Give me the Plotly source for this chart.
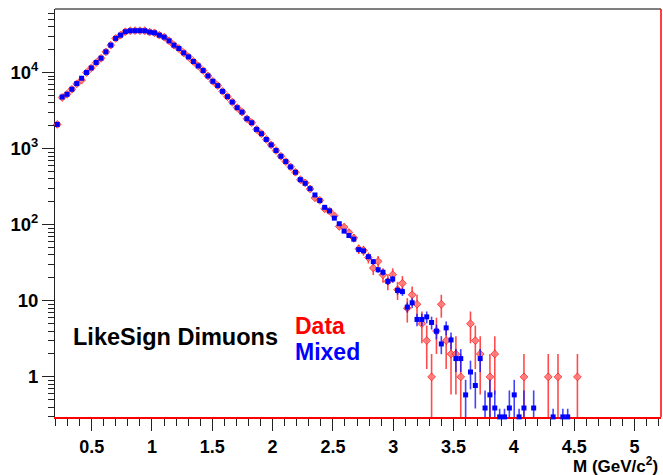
import math
import plotly.graph_objects as go

# ---------------- data ----------------
# histogram bins (bin index -> mass centre)
bin_first_centre = 0.215
bin_width = 0.0403
n_bins = 108

# Mixed (normalised) spectrum, one value per bin (None = empty)
mixed = [2080, 4770, 5180, 6030, 7160, 8410, 10000, 11500, 13550, 15450,
         18700, 22900, 28100, 31000, 34400, 35400, 35500, 35500, 35400, 34000,
         33300, 31000, 29200, 26100, 22900, 20700, 18150, 16070, 13960, 12220,
         10620, 9020, 7670, 6730, 5660, 4820, 4090, 3450, 3020, 2470,
         2190, 1790, 1570, 1320, 1120, 944, 794, 676, 575, 489,
         391, 350, 298, 246, 208, 169, 152, 122, 103, 82.4,
         72.1, 64.6, 47.1, 45.3, 38.0, 32.7, 25.6, 23.7, 18.0, 19.3,
         13.7, 13.2, 8.26, 9.42, 5.69, 5.69, 6.15, 5.19, 3.98, 2.71,
         4.41, 3.06, 1.74, 1.74, 0.58, 1.16, 0.77, 1.74, 0.39, 0.58,
         0.39, 0.19, 0.19, 0.39, 0.58, 0.19, 0.39, None, 0.39, None,
         None, None, 0.19, None, 0.19, 0.19, None, None]

# Data (raw counts), one value per bin (None = empty)
data = [2080, 4700, 5180, 6030, 7100, 7950, 10000, 11500, 13500, 15400,
        18700, 22900, 28100, 31000, 34400, 35400, 35500, 35500, 35400, 34000,
        33300, 31000, 29200, 26100, 22900, 20700, 18150, 16070, 13960, 12220,
        10620, 9020, 7670, 6730, 5660, 4820, 4090, 3450, 3020, 2470,
        2190, 1790, 1570, 1320, 1120, 944, 794, 676, 575, 489,
        391, 355, 295, 226, 209, 162, 151, 131, 95, 93,
        79, 67, 48, 46, 37, 27, 33, 22, 18, 22,
        14, 17, 8, 12, 9, 5, 3, 1, 4, 9,
        3, 2, 2, 1, None, 5, 3, 2, None, 1,
        2, None, None, None, None, None, 1, None, None, None,
        None, 1, None, 1, None, None, None, 1]

mixed_weight = 0.193   # weight per mixed-event entry

x_tick_vals = [0.5, 1, 1.5, 2, 2.5, 3, 3.5, 4, 4.5, 5]
x_tick_text = ["0.5", "1", "1.5", "2", "2.5", "3", "3.5", "4", "4.5", "5"]
y_tick_vals = [1, 10, 100, 1000, 10000]
y_tick_text = ["1", "10", "10<sup>2</sup>", "10<sup>3</sup>", "10<sup>4</sup>"]

# ---------------- axes ----------------
X_RANGE = [0.196, 5.22]
Y_MIN, Y_MAX = 0.297, 68400.0

centres = [round(bin_first_centre + bin_width * i, 4) for i in range(n_bins)]


def prepare(values, err_fn):
    xs, ys, up, dn = [], [], [], []
    for xc, v in zip(centres, values):
        if v is None:
            continue
        e = err_fn(v)
        yd = max(v, Y_MIN * 1.003)
        xs.append(xc)
        ys.append(yd)
        up.append(max(v + e - yd, 0))
        dn.append(max(yd - max(v - e, Y_MIN), 0))
    return xs, ys, up, dn


dx, dy, dup, ddn = prepare(data, lambda v: math.sqrt(v))
mx, my, mup, mdn = prepare(mixed, lambda v: math.sqrt(v * mixed_weight))

FONT = "Liberation Sans, Arial, Helvetica, sans-serif"


def b(t):
    return "<b>" + t + "</b>"


fig = go.Figure()
fig.add_trace(go.Scatter(
    x=dx, y=dy, mode="markers", name="Data", cliponaxis=False,
    marker=dict(symbol="diamond", size=6, color="rgba(255,120,120,0.9)",
                line=dict(color="rgba(255,0,0,0.9)", width=0.7)),
    error_y=dict(type="data", symmetric=False, array=dup, arrayminus=ddn,
                 color="rgba(255,30,30,0.8)", thickness=1.6, width=0),
))
fig.add_trace(go.Scatter(
    x=mx, y=my, mode="markers", name="Mixed", cliponaxis=False,
    marker=dict(symbol="square", size=5, color="#0000ff",
                line=dict(width=0)),
    error_y=dict(type="data", symmetric=False, array=mup, arrayminus=mdn,
                 color="rgba(20,20,255,0.8)", thickness=1.6, width=0),
))

minor_y = []
for dec in range(-1, 5):
    for m in range(2, 10):
        v = m * 10 ** dec
        if Y_MIN <= v <= Y_MAX:
            minor_y.append(v)

fig.update_layout(
    width=663, height=475,
    margin=dict(l=55, r=2, t=9, b=58),
    paper_bgcolor="white", plot_bgcolor="white",
    showlegend=False,
    font=dict(family=FONT, color="black"),
    xaxis=dict(
        range=X_RANGE, showgrid=False, zeroline=False,
        showline=True, linecolor="red", linewidth=2, layer="below traces",
        tickmode="array", tickvals=x_tick_vals,
        ticktext=[b(t) for t in x_tick_text],
        ticks="outside", ticklen=12, tickcolor="#222", tickwidth=1,
        tickfont=dict(family=FONT, size=18, color="black"),
        minor=dict(dtick=0.1, tick0=0, ticks="outside", ticklen=7,
                   tickcolor="#222", tickwidth=1, showgrid=False),
    ),
    yaxis=dict(
        type="log", range=[math.log10(Y_MIN), math.log10(Y_MAX)],
        showgrid=False, zeroline=False,
        showline=True, linecolor="#222", linewidth=1, layer="below traces",
        tickmode="array", tickvals=y_tick_vals,
        ticktext=[b(t) for t in y_tick_text],
        ticks="outside", ticklen=12, tickcolor="#222", tickwidth=1,
        tickfont=dict(family=FONT, size=18.5, color="black"),
        minor=dict(tickmode="array", tickvals=minor_y, ticks="outside",
                   ticklen=6, tickcolor="#222", tickwidth=1, showgrid=False),
    ),
    shapes=[
        dict(type="line", xref="paper", yref="paper", x0=0, x1=1, y0=1, y1=1,
             line=dict(color="#555", width=1.5), layer="above"),
        dict(type="line", xref="paper", yref="paper", x0=1, x1=1, y0=0, y1=1,
             line=dict(color="red", width=1.5), layer="above"),
    ],
    annotations=[
        dict(xref="paper", yref="paper", x=0.027, y=0.197, xanchor="left",
             yanchor="middle", showarrow=False, text=b("LikeSign Dimuons"),
             font=dict(family=FONT, size=23.5, color="black")),
        dict(xref="paper", yref="paper", x=0.393, y=0.224, xanchor="left",
             yanchor="middle", showarrow=False, text=b("Data"),
             font=dict(family=FONT, size=23, color="#ff0000")),
        dict(xref="paper", yref="paper", x=0.393, y=0.160, xanchor="left",
             yanchor="middle", showarrow=False, text=b("Mixed"),
             font=dict(family=FONT, size=23, color="#0000ff")),
        dict(xref="paper", yref="paper", x=0.997, y=-0.147, xanchor="right",
             yanchor="bottom", showarrow=False, borderpad=0,
             text=b("M (GeV/c<sup>2</sup>)"),
             font=dict(family=FONT, size=17, color="black")),
    ],
)

fig.write_html("out.html")
